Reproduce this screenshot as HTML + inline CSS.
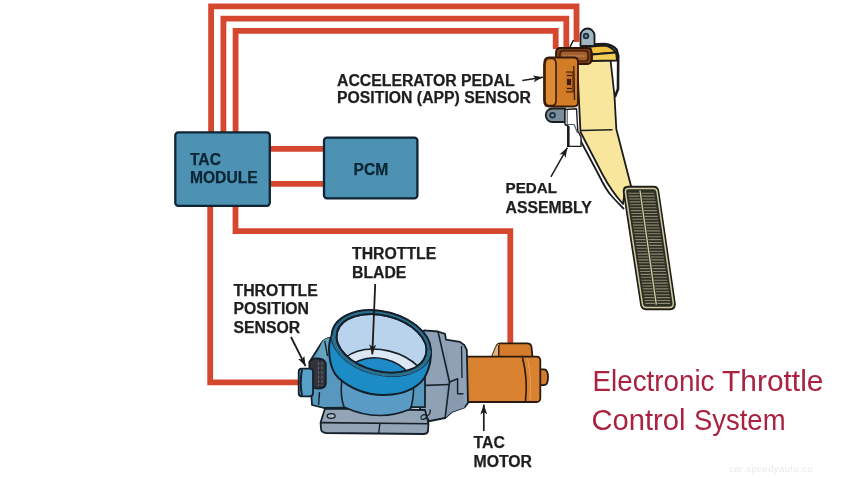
<!DOCTYPE html>
<html><head><meta charset="utf-8">
<style>
html,body{margin:0;padding:0;background:#fff;width:850px;height:478px;overflow:hidden}
svg{display:block;filter:blur(0.35px)}
.lb{font-family:"Liberation Sans",sans-serif;font-weight:bold;font-size:15.8px;fill:#1e1e1e;stroke:#1e1e1e;stroke-width:0.25px}
.bx{font-family:"Liberation Sans",sans-serif;font-weight:bold;font-size:15.6px;fill:#0b2535;stroke:#0b2535;stroke-width:0.25px}
.rt{font-family:"Liberation Sans",sans-serif;font-size:29.5px;fill:#aa2240}
.wm{font-family:"Liberation Sans",sans-serif;font-size:9.3px;fill:#eaeaea;letter-spacing:0.5px}
</style></head>
<body>
<svg width="850" height="478" viewBox="0 0 850 478">
<defs>
<marker id="ah" viewBox="0 0 10 7" refX="10" refY="3.5" markerWidth="10" markerHeight="7" orient="auto" markerUnits="userSpaceOnUse">
<path d="M0,0 L10,3.5 L0,7 L2.6,3.5 z" fill="#1c1c1c"/>
</marker>
<clipPath id="inner"><ellipse cx="381.5" cy="343.3" rx="45.8" ry="27.8" transform="rotate(14 381.5 343.3)"/></clipPath>
<clipPath id="padc"><path d="M629.8,191.2 L651.8,191.2 Q654,191.2 654.4,193.4 L670.4,301.5 Q670.8,304.8 667.8,304.8 L647.6,304.8 Q645.4,304.8 645,302.8 L628.2,193.6 Q628,191.2 629.8,191.2 Z"/></clipPath>
</defs>
<rect width="850" height="478" fill="#fff"/>

<!-- WIRES -->
<g fill="none" stroke="#d5482f" stroke-width="5.8" stroke-linejoin="miter">
<polyline points="211.1,132 211.1,6.4 576.5,6.4 576.5,42"/>
<polyline points="223.4,132 223.4,18.6 566.3,18.6 566.3,49"/>
<polyline points="235.6,132 235.6,30.8 555.7,30.8 555.7,49"/>
<line x1="270" y1="148.8" x2="324" y2="148.8"/>
<line x1="270" y1="183.8" x2="324" y2="183.8"/>
<polyline points="210.2,206 210.2,382.3 300,382.3"/>
<polyline points="235.5,206 235.5,231.2 510.3,231.2 510.3,346"/>
</g>

<!-- TAC MODULE -->
<rect x="175.3" y="132.4" width="94.5" height="73.4" rx="3" fill="#4d91b3" stroke="#0e2535" stroke-width="2.3"/>
<text class="bx" x="190" y="164.5">TAC</text>
<text class="bx" x="190" y="183">MODULE</text>
<!-- PCM -->
<rect x="324" y="137.6" width="93.4" height="60.7" rx="3" fill="#4d91b3" stroke="#0e2535" stroke-width="2.3"/>
<text class="bx" x="353.5" y="174.5">PCM</text>

<!-- LABELS -->
<text class="lb" x="337" y="86">ACCELERATOR PEDAL</text>
<text class="lb" x="337" y="102.7">POSITION (APP) SENSOR</text>
<text class="lb" x="505.6" y="193.3" style="font-size:15.2px">PEDAL</text>
<text class="lb" x="505.5" y="212.8">ASSEMBLY</text>
<text class="lb" x="352" y="259.2">THROTTLE</text>
<text class="lb" x="352" y="278.2">BLADE</text>
<text class="lb" x="233.5" y="295.5">THROTTLE</text>
<text class="lb" x="233.5" y="314.4">POSITION</text>
<text class="lb" x="233.5" y="333.4">SENSOR</text>
<text class="lb" x="473.5" y="447.7">TAC</text>
<text class="lb" x="473.5" y="467">MOTOR</text>

<!-- PEDAL ASSEMBLY -->
<g stroke="#1c1c1c" stroke-width="1.8" stroke-linejoin="round">
  <!-- housing outline right -->
  <path d="M593,44.5 L604,44 Q612,44.5 616.5,49.5 L618.2,56 L618,89 L614.8,97" fill="none" stroke-width="2.6"/>
  <!-- left diagonal outer line -->
  <path d="M576.5,133 L598.8,175 Q606,190 612,196.5 Q618,203 624,209" fill="none" stroke-width="1.8"/>
  <!-- arm -->
  <path d="M577,60 L610.5,60 L614.5,96 L616.3,129 L631,186 L625,190 L623,204 Q612,192 602.8,175 L580.5,132 Z" fill="#f8e69c"/>
  <line x1="581" y1="130.5" x2="612.5" y2="129.8" stroke-width="1.6"/>
  <!-- top faces -->
  <path d="M590,46.5 L604,45.5 Q611,46 616,52.5 L592,54.5 Z" fill="#f0c23e"/>
  <path d="M592,54.5 L616,52.5 L617,60.5 L592,61 Z" fill="#f3cf5a"/>
  <!-- top tab -->
  <path d="M580.5,46 L580.5,35.5 A7,7 0 0 1 594.5,35.5 L594.5,46 Z" fill="#a3b5c0"/>
  <circle cx="586" cy="36" r="3.2" fill="#1f3444" stroke="none"/>
  <circle cx="586" cy="36" r="1.2" fill="#7e98a8" stroke="none"/>
  <!-- wire end -->
  <path d="M573.5,40 L570,47" fill="none" stroke-width="1.6"/>
  <!-- connector -->
  <rect x="556" y="48" width="35.5" height="16" rx="4" fill="#7a3c16" stroke="#2e1606"/>
  <rect x="560" y="50.8" width="28" height="10.2" rx="3.5" fill="#a45e2c" stroke="#2e1606" stroke-width="1.2"/>
  <line x1="563" y1="56" x2="585" y2="56" stroke="#e8b888" stroke-width="0.9" stroke-dasharray="1.5,1"/>
  <!-- sensor body -->
  <path d="M549,57.5 L574,57.5 Q578,57.5 578,62 L578,102 Q578,106.5 574,106.5 L549,106.5 Q544,106.5 544,100 L544,65 Q544,57.5 549,57.5 Z" fill="#d27c27" stroke="#3a1c08" stroke-width="1.8"/>
  <path d="M549,58.5 L552,58.5 Q556,58.5 556,64 L556,101 Q556,105.5 552,105.5 L549,105.5 Q545,105.5 545,100 L545,65 Q545,58.5 549,58.5 Z" fill="#dc8a33" stroke="#3a1c08" stroke-width="1.6"/>
  <path d="M566,72 L573,72 L573,92 L566,92" fill="#c06f22" stroke="#3a1c08" stroke-width="1"/>
  <path d="M573.8,66 L574.5,100" fill="none" stroke="#3a1c08" stroke-width="1.3"/>
  <rect x="567" y="79" width="4" height="6" fill="#3a1c08" stroke="none"/>
  <line x1="567" y1="75.5" x2="572" y2="75.5" stroke="#3a1c08" stroke-width="1"/>
  <line x1="567" y1="88.5" x2="572" y2="88.5" stroke="#3a1c08" stroke-width="1"/>
  <!-- bottom tab -->
  <path d="M552.5,108.5 L565,108.5 L565,122 L552.5,122 A6.75,6.75 0 0 1 552.5,108.5 Z" fill="#7b8d9b"/>
  <circle cx="552.5" cy="115.2" r="3.3" fill="#1f3444" stroke="none"/>
  <circle cx="552.5" cy="115.2" r="1.3" fill="#8fa6b6" stroke="none"/>
  <!-- bracket -->
  <path d="M565,109.5 L576.5,108.8 L577.8,131 L581,137 L581,146.4 L568,146.4 L568,126 L565,124.5 Z" fill="#fff" stroke-width="1.4"/>
  <path d="M567.2,110 L567.2,124.5 L574.2,124.5 L577.5,133" fill="none" stroke="#55606a" stroke-width="1.2"/>
  <line x1="568.3" y1="126" x2="568.3" y2="147" stroke-width="2.6"/>
  <!-- pedal pad -->
  <path d="M628,186.3 L653.5,186.3 Q658,186.3 658.6,191 L675,302.5 Q676,309.5 670,309.5 L646,309.5 Q641.5,309.5 640.8,305 L623.5,192 Q623,186.3 628,186.3 Z" fill="#2e2e24" stroke="#1c1c14" stroke-width="1.3"/>
  <g clip-path="url(#padc)" stroke="#8c8b70" stroke-width="1.1">
  <line x1="627.5" y1="193.2" x2="639.1" y2="193.2"/><line x1="641.7" y1="193.2" x2="655.7" y2="193.2"/><line x1="628.0" y1="196.1" x2="639.5" y2="196.1"/><line x1="642.1" y1="196.1" x2="656.1" y2="196.1"/><line x1="628.4" y1="199.0" x2="639.9" y2="199.0"/><line x1="642.5" y1="199.0" x2="656.5" y2="199.0"/><line x1="628.8" y1="201.9" x2="640.3" y2="201.9"/><line x1="642.9" y1="201.9" x2="656.9" y2="201.9"/><line x1="629.3" y1="204.8" x2="640.7" y2="204.8"/><line x1="643.3" y1="204.8" x2="657.4" y2="204.8"/><line x1="629.7" y1="207.7" x2="641.2" y2="207.7"/><line x1="643.8" y1="207.7" x2="657.8" y2="207.7"/><line x1="630.1" y1="210.6" x2="641.6" y2="210.6"/><line x1="644.2" y1="210.6" x2="658.2" y2="210.6"/><line x1="630.5" y1="213.5" x2="642.0" y2="213.5"/><line x1="644.6" y1="213.5" x2="658.6" y2="213.5"/><line x1="631.0" y1="216.4" x2="642.4" y2="216.4"/><line x1="645.0" y1="216.4" x2="659.0" y2="216.4"/><line x1="631.4" y1="219.3" x2="642.8" y2="219.3"/><line x1="645.4" y1="219.3" x2="659.4" y2="219.3"/><line x1="631.8" y1="222.2" x2="643.2" y2="222.2"/><line x1="645.8" y1="222.2" x2="659.8" y2="222.2"/><line x1="632.3" y1="225.1" x2="643.6" y2="225.1"/><line x1="646.2" y1="225.1" x2="660.2" y2="225.1"/><line x1="632.7" y1="228.0" x2="644.1" y2="228.0"/><line x1="646.7" y1="228.0" x2="660.6" y2="228.0"/><line x1="633.1" y1="230.9" x2="644.5" y2="230.9"/><line x1="647.1" y1="230.9" x2="661.0" y2="230.9"/><line x1="633.5" y1="233.8" x2="644.9" y2="233.8"/><line x1="647.5" y1="233.8" x2="661.4" y2="233.8"/><line x1="634.0" y1="236.7" x2="645.3" y2="236.7"/><line x1="647.9" y1="236.7" x2="661.9" y2="236.7"/><line x1="634.4" y1="239.6" x2="645.7" y2="239.6"/><line x1="648.3" y1="239.6" x2="662.3" y2="239.6"/><line x1="634.8" y1="242.5" x2="646.1" y2="242.5"/><line x1="648.7" y1="242.5" x2="662.7" y2="242.5"/><line x1="635.3" y1="245.4" x2="646.5" y2="245.4"/><line x1="649.1" y1="245.4" x2="663.1" y2="245.4"/><line x1="635.7" y1="248.3" x2="647.0" y2="248.3"/><line x1="649.6" y1="248.3" x2="663.5" y2="248.3"/><line x1="636.1" y1="251.2" x2="647.4" y2="251.2"/><line x1="650.0" y1="251.2" x2="663.9" y2="251.2"/><line x1="636.6" y1="254.1" x2="647.8" y2="254.1"/><line x1="650.4" y1="254.1" x2="664.3" y2="254.1"/><line x1="637.0" y1="257.0" x2="648.2" y2="257.0"/><line x1="650.8" y1="257.0" x2="664.7" y2="257.0"/><line x1="637.4" y1="259.9" x2="648.6" y2="259.9"/><line x1="651.2" y1="259.9" x2="665.1" y2="259.9"/><line x1="637.8" y1="262.8" x2="649.0" y2="262.8"/><line x1="651.6" y1="262.8" x2="665.5" y2="262.8"/><line x1="638.3" y1="265.7" x2="649.4" y2="265.7"/><line x1="652.0" y1="265.7" x2="665.9" y2="265.7"/><line x1="638.7" y1="268.6" x2="649.9" y2="268.6"/><line x1="652.5" y1="268.6" x2="666.4" y2="268.6"/><line x1="639.1" y1="271.5" x2="650.3" y2="271.5"/><line x1="652.9" y1="271.5" x2="666.8" y2="271.5"/><line x1="639.6" y1="274.4" x2="650.7" y2="274.4"/><line x1="653.3" y1="274.4" x2="667.2" y2="274.4"/><line x1="640.0" y1="277.3" x2="651.1" y2="277.3"/><line x1="653.7" y1="277.3" x2="667.6" y2="277.3"/><line x1="640.4" y1="280.2" x2="651.5" y2="280.2"/><line x1="654.1" y1="280.2" x2="668.0" y2="280.2"/><line x1="640.8" y1="283.1" x2="651.9" y2="283.1"/><line x1="654.5" y1="283.1" x2="668.4" y2="283.1"/><line x1="641.3" y1="286.0" x2="652.3" y2="286.0"/><line x1="654.9" y1="286.0" x2="668.8" y2="286.0"/><line x1="641.7" y1="288.9" x2="652.8" y2="288.9"/><line x1="655.4" y1="288.9" x2="669.2" y2="288.9"/><line x1="642.1" y1="291.8" x2="653.2" y2="291.8"/><line x1="655.8" y1="291.8" x2="669.6" y2="291.8"/><line x1="642.6" y1="294.7" x2="653.6" y2="294.7"/><line x1="656.2" y1="294.7" x2="670.0" y2="294.7"/><line x1="643.0" y1="297.6" x2="654.0" y2="297.6"/><line x1="656.6" y1="297.6" x2="670.4" y2="297.6"/><line x1="643.4" y1="300.5" x2="654.4" y2="300.5"/><line x1="657.0" y1="300.5" x2="670.9" y2="300.5"/><line x1="643.8" y1="303.4" x2="654.8" y2="303.4"/><line x1="657.4" y1="303.4" x2="671.3" y2="303.4"/>
  </g>
  <path d="M628.3,188.4 L653.3,188.4 Q656.5,188.4 657,191.5 L673.2,302.3 Q673.8,307.5 669.5,307.5 L646.2,307.5 Q643,307.5 642.5,304.5 L625.5,192.3 Q625.2,188.4 628.3,188.4 Z" fill="none" stroke="#cdc9a0" stroke-width="1.5"/>
  <line x1="640" y1="190.5" x2="656.3" y2="304.6" stroke="#cdc9a0" stroke-width="1.4"/>
</g>

<!-- THROTTLE BODY -->
<g stroke="#15202a" stroke-width="1.8" stroke-linejoin="round">
  <!-- motor -->
  <g stroke="#2a1a0e">
  <path d="M491.8,357 L496,347 Q497,343.4 501,343.4 L527,343.4 Q531,343.4 531.5,347 L532.5,357 Z" fill="#d47c2a"/>
  <path d="M491.8,357 L496,347 Q497,344 499,344 L499,357 Z" fill="#e8b07a" stroke="none"/>
  <path d="M498.8,345 L498.8,357" fill="none" stroke-width="1.4"/>
  <path d="M540,369.3 L544,369.3 Q548,369.3 548,377.3 Q548,385.2 544,385.2 L540,385.2 Z" fill="#d47c2a"/>
  <rect x="462" y="356.6" width="78.3" height="45.4" rx="3.5" fill="#d98230"/>
  <path d="M522.5,357.5 Q528,379 525.5,401" fill="none" stroke-width="1.6"/>
  <path d="M527.5,358 Q532,379 530,400" fill="none" stroke="#e9a058" stroke-width="1"/>
  </g>
  <!-- gray block -->
  <path d="M424.2,330.4 L438,331.5 L445,333.8 L446,339.6 L460,341.9 L464.5,345.3 L466.8,350 L468,403 L464.5,407.5 L451.8,412 L445,418 L430,421 L420,421 L420,335 Z" fill="#8fa2b5"/>
  <path d="M446,339.6 L449.5,382 L457.6,378.7 L457.6,393.7 L463.4,393.7 L464.5,407.5 L451.8,412 L445,418 Z" fill="#889bae" stroke="none"/>
  <path d="M438,331.5 L449.5,382 L445,419" fill="none" stroke-width="1.6"/>
  <path d="M419.6,385.6 L449.5,384.5" fill="none" stroke-width="1.6"/>
  <path d="M449.5,382 L457.6,378.7 L457.6,393.7 L463.4,393.7" fill="none" stroke-width="1.5"/>
  <path d="M461.5,346 L462,378" fill="none" stroke-width="1.3"/>
  <!-- base plate -->
  <path d="M325,408.5 L425,410 L428.5,423.5 L428,431 Q427.5,434 423.5,434 L326,433 Q321,432.5 321,428.5 L320.6,422.6 Z" fill="#93a4b6"/>
  <path d="M320.6,422.6 L428.5,423.8" fill="none" stroke-width="1.6"/>
  <path d="M380,423.2 L378.6,433.5" fill="none" stroke-width="1.4"/>
  <ellipse cx="331.2" cy="416" rx="4" ry="2.3" fill="#a8b8c6" stroke-width="1.3"/>
  <path d="M420.5,417.5 Q423.5,412.5 427,416 Q425,421 420.5,418.5 M427,416 Q431,414 430,409.5 M427.5,418 Q430,421 428,423" fill="none" stroke-width="1.3"/>
  <!-- housing -->
  <path d="M309.5,362 L321.8,342.4 Q324,338.8 330.6,337.6 L340,337 L425,340 L425,407 L324,408 L312,405 L311,390 Z" fill="#5898bf"/>
  <path d="M321.8,342.4 Q324,338.8 330.6,337.6 L329,352 L326,362 L314,362 Z" fill="#66a3bd" stroke="none"/>
  <path d="M324.8,341 Q326,348 327.5,356" fill="none" stroke-width="1.4"/>
  <path d="M319.5,392 L318.6,405" fill="none" stroke-width="1.4"/>
  <!-- lower bore -->
  <path d="M341.8,380 Q340,396 344,407 Q378,423 410.5,409 Q414,398 413.5,385 Z" fill="#5a9cc5" stroke-width="1.6"/>
  <!-- TPS -->
  <path d="M309.5,362 Q312,358 318,358.5 Q325,359 325.8,364 L325.8,384 Q325,388.5 318,388.5 Q311,388.5 309.5,385 Z" fill="#33343b"/>
  <path d="M318.5,362 L318.5,386 M322,362 L322,386" stroke="#5f6672" stroke-width="1.1" fill="none" stroke-dasharray="3,1.5"/>
  <!-- stub -->
  <rect x="298.7" y="368.6" width="14.3" height="27.7" rx="3" fill="#57a0c8"/>
  <path d="M302,369.5 Q299.5,382.5 302,395.5" fill="none" stroke-width="2"/>
  <!-- collar -->
  <path d="M431,350.2 A50.6,32.2 14 0 1 331.6,335.8 C327,345 328.5,368 338,377.5 C350,389 368,395.5 385,395 C405,394.5 421,386.5 426.2,374.4 C429.5,367 431.5,360 431,350.2 Z" fill="#1b8cc6" stroke-width="2"/>
  <!-- rim -->
  <ellipse cx="381.3" cy="343" rx="50.6" ry="32.2" transform="rotate(14 381.3 343)" fill="#2a6f8e" stroke="none"/>
  <path d="M331.6,335.8 A50.6,32.2 14 0 1 431,350.2" fill="none" stroke-width="2"/>
  <ellipse cx="381.5" cy="343.3" rx="45.8" ry="27.8" transform="rotate(14 381.5 343.3)" fill="#b9d3ec" stroke-width="1.8"/>
  <g clip-path="url(#inner)">
    <ellipse cx="383" cy="377.3" rx="44" ry="27" transform="rotate(14 383 377.3)" fill="#dce9f5" stroke-width="1.6"/>
    <ellipse cx="379" cy="385.5" rx="36" ry="27" transform="rotate(14 379 385.5)" fill="#1f8ac8" stroke-width="1.6"/>
  </g>
  <ellipse cx="381.5" cy="343.3" rx="45.8" ry="27.8" transform="rotate(14 381.5 343.3)" fill="none" stroke-width="1.8"/>
</g>
<!-- arrows -->
<g stroke="#1c1c1c" stroke-width="1.5" fill="none">
  <line x1="522.3" y1="80.4" x2="543" y2="77.3" marker-end="url(#ah)"/>
  <line x1="550.9" y1="176.9" x2="567.4" y2="147.6" marker-end="url(#ah)"/>
  <line x1="375.2" y1="284" x2="372.3" y2="354.4" marker-end="url(#ah)" stroke-width="1.8"/>
  <line x1="291" y1="337" x2="305.6" y2="366.2" marker-end="url(#ah)" stroke-width="1.8"/>
  <line x1="483.8" y1="431" x2="483.8" y2="404.5" marker-end="url(#ah)" stroke-width="1.7"/>
</g>

<!-- RED TITLE -->
<text class="rt" x="592.5" y="391.3" textLength="122" lengthAdjust="spacingAndGlyphs">Electronic</text><text class="rt" x="722" y="391.3" textLength="101.5" lengthAdjust="spacingAndGlyphs">Throttle</text>
<text class="rt" x="591.5" y="429.5" textLength="94" lengthAdjust="spacingAndGlyphs">Control</text><text class="rt" x="694" y="429.5" textLength="91.5" lengthAdjust="spacingAndGlyphs">System</text>
<text class="wm" x="729" y="472">car.speedyauto.co</text>
</svg>
</body></html>
